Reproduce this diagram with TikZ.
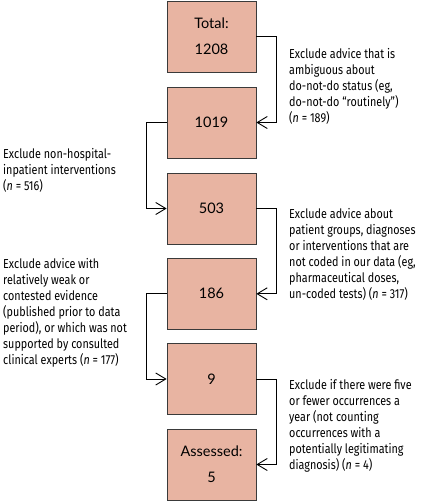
\documentclass[tikz,border=0pt]{standalone}
\usepackage{fontspec}
\setmainfont{Fira Sans}[FakeStretch=0.83]
\newfontfamily\boxfont{Lato}
\usetikzlibrary{arrows.meta}
\definecolor{boxfill}{HTML}{E8B4A2}
\definecolor{edge}{HTML}{3A3A3A}
\tikzset{
  stagebox/.style={draw=edge, line width=0.8pt, fill=boxfill, minimum width=89pt,
    minimum height=71pt, inner sep=0pt, align=center,
    font=\boxfont\fontsize{14.5}{26}\selectfont},
  note/.style={align=left, anchor=north west, inner sep=0pt,
    font=\fontsize{13}{16}\selectfont},
  link/.style={draw=black, line width=0.9pt, -{Straight Barb[length=10pt, width=12pt, line width=0.9pt]}}
}
\begin{document}
\begin{tikzpicture}[x=1pt, y=-1pt]
\useasboundingbox (0,0) rectangle (420,502);
\node[stagebox] (b1) at (211.5,36.5) {Total:\\1208};
\node[stagebox] (b2) at (211.5,122.5) {1019};
\node[stagebox] (b3) at (211.5,208.5) {503};
\node[stagebox] (b4) at (211.5,293.8) {186};
\node[stagebox] (b5) at (211.5,379) {9};
\node[stagebox] (b6) at (211.5,464.5) {Assessed:\\5};

\draw[link] (b1.east) -- ++(20,0) |- (b2.east);
\draw[link] (b2.west) -- ++(-20,0) |- (b3.west);
\draw[link] (b3.east) -- ++(20,0) |- (b4.east);
\draw[link] (b4.west) -- ++(-20,0) |- (b5.west);
\draw[link] (b5.east) -- ++(20,0) |- (b6.east);

\node[note] (t1) at (289,48.5) {Exclude advice that is\\ambiguous about\\do-not-do status (eg,\\do-not-do “routinely”)\\(\textit{n} = 189)};
\node[note] (t2) at (3,148.5) {Exclude non-hospital-\\inpatient interventions\\(\textit{n} = 516)};
\node[note] (t3) at (289,208.5) {Exclude advice about\\patient groups, diagnoses\\or interventions that are\\not coded in our data (eg,\\pharmaceutical doses,\\un-coded tests) (\textit{n} = 317)};
\node[note] (t4) at (3,258.5) {Exclude advice with\\relatively weak or\\contested evidence\\(published prior to data\\period), or which was not\\supported by consulted\\clinical experts (\textit{n} = 177)};
\node[note] (t5) at (289,379.5) {Exclude if there were five\\or fewer occurrences a\\year (not counting\\occurrences with a\\potentially legitimating\\diagnosis) (\textit{n} = 4)};
\end{tikzpicture}
\end{document}
